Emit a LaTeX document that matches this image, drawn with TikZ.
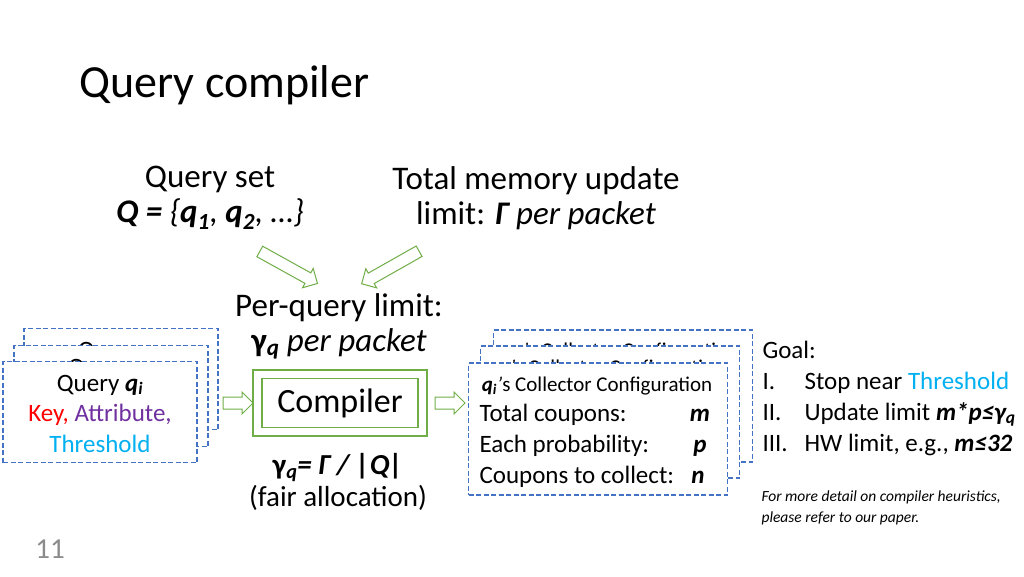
\documentclass[tikz,border=0pt]{standalone}
\usepackage{fontspec}
\setmainfont{Carlito}
\usetikzlibrary{shapes.arrows}
\definecolor{arrowgreen}{HTML}{70AD47}
\definecolor{boxblue}{HTML}{4472C4}
\definecolor{keyred}{HTML}{FF0000}
\definecolor{attrpurple}{HTML}{7030A0}
\definecolor{threshcyan}{HTML}{00B0F0}
\definecolor{pagegrey}{HTML}{8B8B8B}
\newcommand{\bfit}[1]{\textbf{\textit{#1}}}
\newcommand{\confhead}{\bfit{q\textsubscript{i}}\textit{’}s Collector Configuration}
\tikzset{
  titletext/.style={font=\fontsize{46}{50}\selectfont},
  bodytext/.style={font=\fontsize{33}{35}\selectfont, align=center},
  boxtext/.style={font=\fontsize{25}{30}\selectfont},
  headtext/.style={font=\fontsize{21}{24}\selectfont},
  notetext/.style={font=\fontsize{15.5}{21}\selectfont\itshape, align=left},
  querybox/.style={draw=boxblue, fill=white, dash pattern=on 5pt off 2.5pt, line width=1.7pt, minimum width=194pt, minimum height=101pt},
  confbox/.style={draw=boxblue, fill=white, dash pattern=on 5pt off 2.5pt, line width=1.7pt, minimum width=259pt, minimum height=132pt},
  compbox/.style={draw=arrowgreen, line width=1.2pt},
  hollowarrow/.style={single arrow, draw=arrowgreen, fill=white, line width=1pt, inner xsep=0pt, inner ysep=5.5pt, single arrow head extend=5pt, single arrow head indent=0pt}
}
\begin{document}
\begin{tikzpicture}[x=1pt,y=-1pt]
    \useasboundingbox (0,0) rectangle (1024,576);
    % Title
    \node [titletext, anchor=west] (title) at (76,85) {Query compiler};
    % Inputs
    \node [bodytext] (qset) at (210,198) {Query set\\\textit{\textbf{Q =} \{\textbf{q\textsubscript{1}}, \textbf{q\textsubscript{2}}, …\}}};
    \node [bodytext] (memlimit) at (536,198) {Total memory update\\limit: \textit{\textbf{Γ} per packet}};
    \node [hollowarrow, minimum height=66pt, rotate=-29] (inarrowa) at (286,266) {};
    \node [hollowarrow, minimum height=66pt, rotate=-150.5] (inarrowb) at (393,266) {};
    % Per-query limit
    \node [bodytext] (perquery) at (339,326) {Per-query limit:\\\textbf{γ\textsubscript{\textit{q}}} \textit{per packet}};
    % Query stack
    \node [querybox] (queryc) at (121,379) {};
    \node [boxtext, anchor=base] at (121,358) {Query \bfit{q\textsubscript{i}}};
    \node [querybox] (queryb) at (111,396) {};
    \node [boxtext, anchor=base] at (111,375) {Query \bfit{q\textsubscript{i}}};
    \node [querybox] (querya) at (100,412) {};
    \node [boxtext, anchor=base] at (100,391) {Query \bfit{q\textsubscript{i}}};
    \node [boxtext, anchor=base] at (100,421) {\textcolor{keyred}{Key,} \textcolor{attrpurple}{Attribute,}};
    \node [boxtext, anchor=base] at (100,452) {\textcolor{threshcyan}{Threshold}};
    % Compiler
    \node [hollowarrow, minimum height=30pt] (arrowin) at (235,403) {};
    \node [compbox, minimum width=174pt, minimum height=66pt] (compiler) at (340,403) {};
    \node [compbox, minimum width=156pt, minimum height=49pt, font=\fontsize{34}{38}\selectfont] (compinner) at (compiler) {Compiler};
    \node [hollowarrow, minimum height=30pt] (arrowout) at (447,403) {};
    \node [bodytext, font=\fontsize{29}{32}\selectfont] (fair) at (338,482) {\textbf{γ\textsubscript{\textit{q}}\textit{= Γ / |Q|}}\\(fair allocation)};
    % Collector configuration stack
    \node [confbox] (confc) at (623,396) {};
    \node [headtext, anchor=base] at (623,357) {\confhead};
    \node [confbox] (confb) at (610,412) {};
    \node [headtext, anchor=base] at (610,374) {\confhead};
    \node [confbox] (confa) at (598,429) {};
    \node [headtext, anchor=base] at (597,391) {\confhead};
    \node [boxtext, anchor=base west] at (476,421) {Total coupons:};
    \node [boxtext, anchor=base west] at (476,452) {Each probability:};
    \node [boxtext, anchor=base west] at (476,483) {Coupons to collect:};
    \node [boxtext, anchor=base] at (700,421) {\bfit{m}};
    \node [boxtext, anchor=base] at (700,452) {\bfit{p}};
    \node [boxtext, anchor=base] at (698,483) {\bfit{n}};
    % Goals
    \node [boxtext, anchor=base west] (goal) at (759,358) {Goal:};
    \node [boxtext, anchor=base west] at (759,389) {I.};
    \node [boxtext, anchor=base west] at (759,420) {II.};
    \node [boxtext, anchor=base west] at (759,451) {III.};
    \node [boxtext, anchor=base west] at (801,389) {Stop near \textcolor{threshcyan}{Threshold}};
    \node [boxtext, anchor=base west] at (801,420) {Update limit \bfit{m*p≤γ\textsubscript{q}}};
    \node [boxtext, anchor=base west] at (801,451) {HW limit, e.g., \bfit{m≤32}};
    \node [notetext, anchor=west] (note) at (758,508) {For more detail on compiler heuristics,\\please refer to our paper.};
    % Page number
    \node [font=\fontsize{29}{33}\selectfont, text=pagegrey] (pagenum) at (50,549) {11};
\end{tikzpicture}
\end{document}
